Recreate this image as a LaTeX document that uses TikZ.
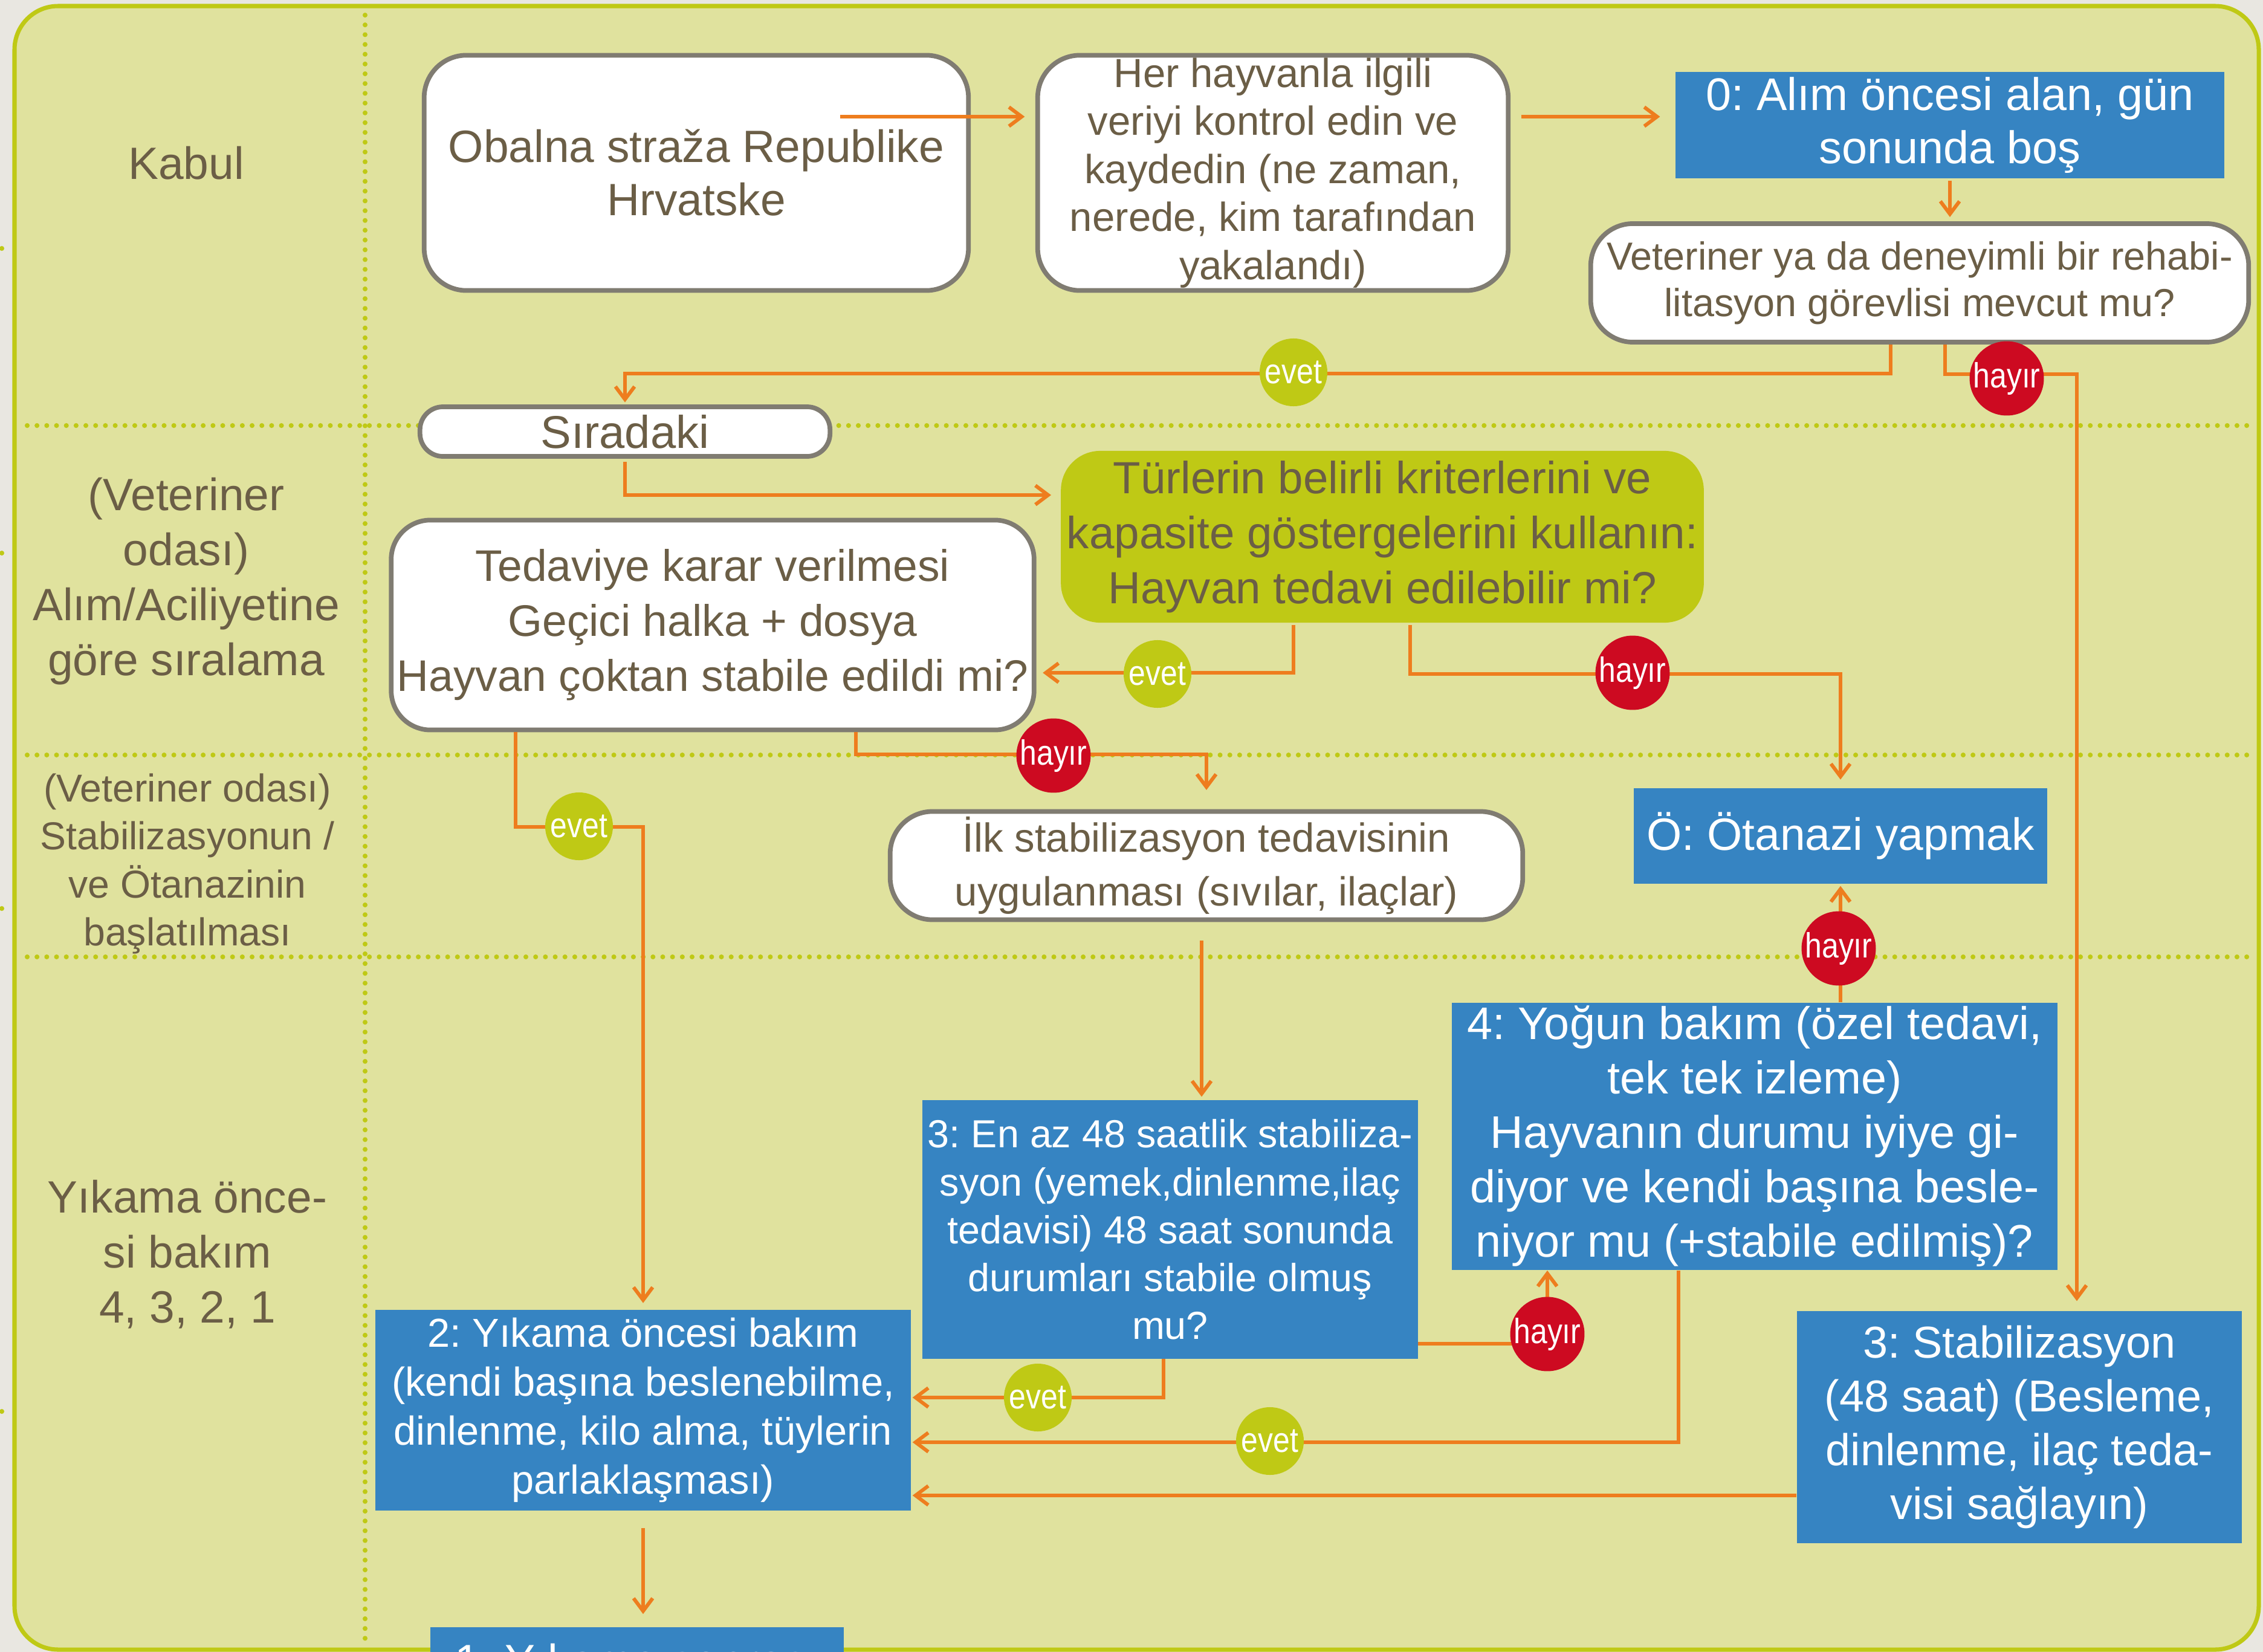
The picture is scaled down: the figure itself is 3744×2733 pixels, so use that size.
\documentclass[tikz,border=0pt]{standalone}
\usepackage{fontspec}
\setmainfont{Liberation Sans}
\newfontfamily\condfont[FakeStretch=0.86]{Liberation Sans}
\usetikzlibrary{arrows.meta}
\definecolor{pagebg}{RGB}{233,231,225}
\definecolor{lanefill}{RGB}{224,226,158}
\definecolor{laneline}{RGB}{191,201,21}
\definecolor{txtbrown}{RGB}{107,94,70}
\definecolor{flow}{RGB}{238,125,30}
\definecolor{stepblue}{RGB}{54,132,194}
\definecolor{nored}{RGB}{205,10,33}
\definecolor{boxedge}{RGB}{128,124,114}
\frenchspacing

\begin{document}
\begin{tikzpicture}[x=0.01cm, y=-0.01cm,
        lanesep/.style={laneline, line width=2.3pt, line cap=round, dash pattern=on 0pt off 4.6pt},
        lanetxt/.style={text=txtbrown, align=center, font=\fontsize{21.3}{25.9}\selectfont},
        roundbox/.style={draw=boxedge, line width=2.2pt, fill=white, rounded corners=0.7cm, text=txtbrown, align=center, inner sep=0pt},
        bluebox/.style={fill=stepblue, text=white, align=center, inner sep=0pt},
        evet/.style={circle, fill=laneline, text=white, inner sep=0pt, minimum size=1.12cm, font=\condfont\fontsize{16.5}{16.5}\selectfont},
        hayir/.style={evet, fill=nored},
        arr/.style={flow, line width=1.7pt, -{Straight Barb[length=6pt,width=9pt]}, shorten >=3pt}]
        \useasboundingbox (0,0) rectangle (3744,2733);
        \fill[pagebg] (0,0) rectangle (3744,2733);
        \draw[laneline, line width=2pt, fill=lanefill, rounded corners=0.72cm] (24,10) rectangle (3737,2729);
        \foreach \y in {704,1249,1583} \draw[lanesep] (45,\y) -- (3725,\y);
        \draw[lanesep] (604,25) -- (604,2720);
        \foreach \y in {411,915,1503,2335} \draw[lanesep] (3,\y) -- (17,\y);

        \node[lanetxt] (kabul) at (308,270) {Kabul};
        \node[lanetxt] (veteriner) at (308,962) {(Veteriner\\odası)\\Alım/Aciliyetine\\göre sıralama};
        \node[lanetxt, font=\fontsize{18.3}{22.5}\selectfont] (baslat) at (310,1429) {(Veteriner odası)\\Stabilizasyonun /\\ve Ötanazinin\\başlatılması};
        \node[lanetxt] (yikama) at (310,2075) {Yıkama önce-\\si bakım\\4, 3, 2, 1};

        \node[roundbox, minimum width=9cm, minimum height=3.89cm, font=\fontsize{21.3}{25}\selectfont] (obalna) at (1152,286) {Obalna straža Republike\\Hrvatske};
        \node[roundbox, minimum width=7.78cm, minimum height=3.89cm, font=\fontsize{19.1}{22.6}\selectfont] (kontrol) at (2106,286) {Her hayvanla ilgili\\veriyi kontrol edin ve\\kaydedin (ne zaman,\\nerede, kim tarafından\\yakalandı)};
        \node[bluebox, minimum width=9.08cm, minimum height=1.75cm, font=\fontsize{21.5}{25}\selectfont] (alim) at (3226,207) {0: Alım öncesi alan, gün\\sonunda boş};
        \node[roundbox, minimum width=10.88cm, minimum height=1.96cm, font=\fontsize{18.4}{21.9}\selectfont] (mevcut) at (3176,468) {Veteriner ya da deneyimli bir rehabi-\\litasyon görevlisi mevcut mu?};
        \node[roundbox, rounded corners=0.38cm, minimum width=6.78cm, minimum height=0.82cm, font=\fontsize{21.6}{25}\selectfont] (siradaki) at (1034,714) {Sıradaki};
        \node[roundbox, draw=none, fill=laneline, rounded corners=0.65cm, minimum width=10.63cm, minimum height=2.84cm, font=\fontsize{21.2}{25.9}\selectfont] (kriter) at (2287,888) {Türlerin belirli kriterlerini ve\\kapasite göstergelerini kullanın:\\Hayvan tedavi edilebilir mi?};
        \node[roundbox, rounded corners=0.65cm, minimum width=10.63cm, minimum height=3.47cm, font=\fontsize{20.8}{25.9}\selectfont] (karar) at (1179,1034) {Tedaviye karar verilmesi\\Geçici halka + dosya\\Hayvan çoktan stabile edildi mi?};
        \node[bluebox, minimum width=6.83cm, minimum height=1.57cm, font=\fontsize{21.3}{25}\selectfont] (otanazi) at (3045,1383) {Ö: Ötanazi yapmak};
        \node[roundbox, minimum width=10.46cm, minimum height=1.79cm, font=\fontsize{19.1}{25.3}\selectfont] (ilkstab) at (1996,1432) {İlk stabilizasyon tedavisinin\\uygulanması (sıvılar, ilaçlar)};
        \node[bluebox, minimum width=8.19cm, minimum height=4.27cm, font=\fontsize{18.4}{22.5}\selectfont] (enaz) at (1936,2034) {3: En az 48 saatlik stabiliza-\\syon (yemek,dinlenme,ilaç\\tedavisi) 48 saat sonunda\\durumları stabile olmuş\\mu?};
        \node[bluebox, minimum width=10.01cm, minimum height=4.42cm, font=\fontsize{21.5}{25.6}\selectfont] (yogun) at (2903,1880) {4: Yoğun bakım (özel tedavi,\\tek tek izleme)\\Hayvanın durumu iyiye gi-\\diyor ve kendi başına besle-\\niyor mu (+stabile edilmiş)?};
        \node[bluebox, minimum width=7.36cm, minimum height=3.84cm, font=\fontsize{21}{25.3}\selectfont] (stabiliz) at (3341,2361) {3: Stabilizasyon\\(48 saat) (Besleme,\\dinlenme, ilaç teda-\\visi sağlayın)};
        \node[bluebox, minimum width=8.86cm, minimum height=3.32cm, font=\fontsize{19}{23}\selectfont] (bakim2) at (1064,2333) {2: Yıkama öncesi bakım\\(kendi başına beslenebilme,\\dinlenme, kilo alma, tüylerin\\parlaklaşması)};
        \node[bluebox, minimum width=6.83cm, minimum height=1.1cm, font=\fontsize{21.3}{25}\selectfont] (yikama1) at (1054,2747) {1: Yıkama sonrası};

        \coordinate (o1) at (1390,193);
        \draw[arr, shorten >=5pt] (o1) -- (o1 -| kontrol.west);
        \draw[arr, shorten <=5pt, shorten >=7pt] (kontrol.east |- o1) -- (alim.west |- o1);
        \draw[arr, shorten <=1pt, shorten >=2pt] (alim.south) -- (alim.south |- mevcut.north);
        \coordinate (m1) at (3128,618);
        \coordinate (m2) at (3218,619);
        \coordinate (m3) at (3436,619);
        \draw[arr, shorten >=1pt] (mevcut.south -| m1) |- (m1 -| siradaki.north) -- (siradaki.north);
        \draw[arr, shorten >=4.5pt] (mevcut.south -| m2) |- (m3) -- (m3 |- stabiliz.north);
        \coordinate (s1) at (1034,819);
        \draw[arr, shorten <=1.5pt, shorten >=3.5pt] (siradaki.south) |- (s1 -| kriter.west);
        \coordinate (k1) at (2140,1113);
        \coordinate (k2) at (2333,1115);
        \draw[arr] (kriter.south -| k1) |- (k1 -| karar.east);
        \draw[arr, shorten >=4pt] (kriter.south -| k2) |- (k2 -| otanazi.north) -- (otanazi.north);
        \coordinate (t1) at (853,1368);
        \coordinate (t2) at (1416,1248);
        \draw[arr] (karar.south -| t1) |- (t1 -| bakim2.north) -- (bakim2.north);
        \draw[arr, shorten >=9pt] (karar.south -| t2) |- (t2 -| ilkstab.north) -- (ilkstab.north);
        \coordinate (i1) at (1988,1552);
        \draw[arr, shorten <=8.8pt, shorten >=1.5pt] (ilkstab.south -| i1) -- (i1 |- enaz.north);
        \coordinate (e1) at (1925,2312);
        \coordinate (e2) at (2560,2223);
        \draw[arr, shorten >=0.5pt] (enaz.south -| e1) |- (e1 -| bakim2.east);
        \draw[arr, shorten >=0pt] (e2 -| enaz.east) -| (yogun.south -| e2);
        \draw[arr, shorten >=1pt] (yogun.north -| otanazi.south) -- (otanazi.south);
        \coordinate (y1) at (2777,2386);
        \coordinate (y2) at (2973,2474);
        \draw[arr, shorten >=0.5pt] (yogun.south -| y1) |- (y1 -| bakim2.east);
        \draw[arr, shorten >=0.5pt] (y2 -| stabiliz.west) -- (y2 -| bakim2.east);
        \draw[arr, shorten <=8pt, shorten >=6pt] (bakim2.south) -- (bakim2.south |- yikama1.north);

        \node[evet] (evet1) at (2140,616) {evet};
        \node[hayir] (hayir1) at (3320,626) {hayır};
        \node[evet] (evet2) at (1915,1115) {evet};
        \node[hayir] (hayir2) at (2701,1113) {hayır};
        \node[evet] (evet3) at (958,1367) {evet};
        \node[hayir] (hayir3) at (1743,1250) {hayır};
        \node[evet] (evet4) at (1717,2312) {evet};
        \node[hayir] (hayir4) at (2560,2207) {hayır};
        \node[hayir] (hayir5) at (3042,1569) {hayır};
        \node[evet] (evet5) at (2101,2384) {evet};
\end{tikzpicture}
\end{document}
